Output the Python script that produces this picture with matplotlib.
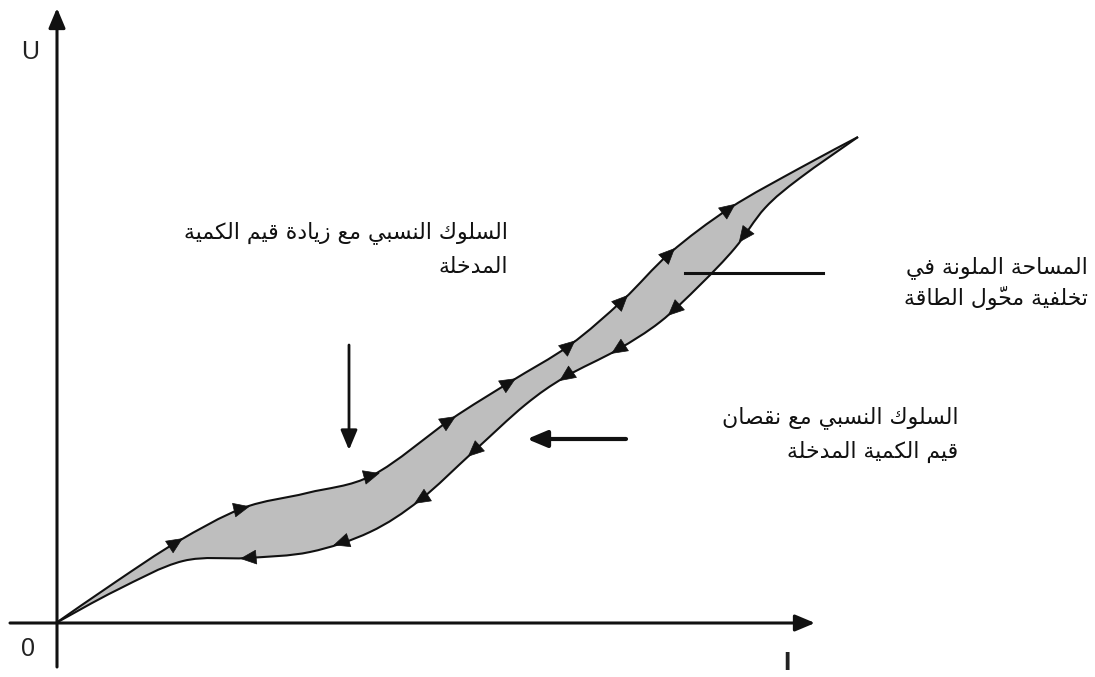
import matplotlib
matplotlib.use("Agg")
import matplotlib.pyplot as plt
from matplotlib.path import Path
from matplotlib.patches import PathPatch
import numpy as np

# Hysteresis loop of an energy converter (schematic) in pixel units
upper_x = [56, 117, 177, 243, 307, 373, 450, 510, 570, 623, 670, 730, 800, 858]
upper_y = [623, 581, 542, 508, 493, 475, 420, 382, 345, 300, 253, 208, 168, 137]
lower_x = [858, 800, 765, 735, 700, 660, 617, 565, 525, 473, 420, 370, 310, 247, 183, 117, 56]
lower_y = [137, 178, 208, 248, 285, 322, 350, 377, 405, 452, 500, 532, 552, 558, 561, 590, 623]

# where the small direction arrows sit
upper_arrow_x = [177, 243, 373, 450, 510, 570, 623, 670, 730]
upper_arrow_y = [542, 508, 475, 420, 382, 345, 300, 253, 208]
lower_arrow_x = [743, 673, 617, 565, 473, 420, 340, 247]
lower_arrow_y = [237, 311, 350, 377, 452, 500, 543, 558]

label_rising = ["السلوك النسبي مع زيادة قيم الكمية", "المدخلة"]
label_area = ["المساحة الملونة في", "تخلفية محوّل الطاقة"]
label_falling = ["السلوك النسبي مع نقصان", "قيم الكمية المدخلة"]

# --- minimal Arabic shaping (matplotlib does no shaping / bidi) ---
FORMS = {
    'ا': (0xFE8D, 0xFE8E, None, None),
    'ب': (0xFE8F, 0xFE90, 0xFE91, 0xFE92),
    'ة': (0xFE93, 0xFE94, None, None),
    'ت': (0xFE95, 0xFE96, 0xFE97, 0xFE98),
    'ح': (0xFEA1, 0xFEA2, 0xFEA3, 0xFEA4),
    'خ': (0xFEA5, 0xFEA6, 0xFEA7, 0xFEA8),
    'د': (0xFEA9, 0xFEAA, None, None),
    'ز': (0xFEAF, 0xFEB0, None, None),
    'س': (0xFEB1, 0xFEB2, 0xFEB3, 0xFEB4),
    'ص': (0xFEB9, 0xFEBA, 0xFEBB, 0xFEBC),
    'ط': (0xFEC1, 0xFEC2, 0xFEC3, 0xFEC4),
    'ع': (0xFEC9, 0xFECA, 0xFECB, 0xFECC),
    'ف': (0xFED1, 0xFED2, 0xFED3, 0xFED4),
    'ق': (0xFED5, 0xFED6, 0xFED7, 0xFED8),
    'ك': (0xFED9, 0xFEDA, 0xFEDB, 0xFEDC),
    'ل': (0xFEDD, 0xFEDE, 0xFEDF, 0xFEE0),
    'م': (0xFEE1, 0xFEE2, 0xFEE3, 0xFEE4),
    'ن': (0xFEE5, 0xFEE6, 0xFEE7, 0xFEE8),
    'و': (0xFEED, 0xFEEE, None, None),
    'ي': (0xFEF1, 0xFEF2, 0xFEF3, 0xFEF4),
}
MARKS = {'\u0651'}


def shape(text):
    chars = list(text)
    n = len(chars)
    clusters = []
    for i, c in enumerate(chars):
        if c in MARKS and clusters:
            clusters[-1] += c
            continue
        if c not in FORMS:
            clusters.append(c)
            continue
        j = i - 1
        while j >= 0 and chars[j] in MARKS:
            j -= 1
        k = i + 1
        while k < n and chars[k] in MARKS:
            k += 1
        prev_j = j >= 0 and chars[j] in FORMS and FORMS[chars[j]][2] is not None
        next_j = k < n and chars[k] in FORMS and FORMS[c][2] is not None
        iso, fin, ini, med = FORMS[c]
        if prev_j and next_j:
            g = med
        elif prev_j:
            g = fin
        elif next_j:
            g = ini
        else:
            g = iso
        clusters.append(chr(g))
    return "".join(clusters[::-1])


def smooth_path(xs, ys):
    # Catmull-Rom through the read points, as cubic Bezier segments
    p = np.column_stack([xs, ys]).astype(float)
    pad = np.vstack([p[0], p, p[-1]])
    verts = [p[0]]
    codes = [Path.MOVETO]
    for i in range(1, len(pad) - 2):
        c1 = pad[i] + (pad[i + 1] - pad[i - 1]) / 6
        c2 = pad[i + 1] - (pad[i + 2] - pad[i]) / 6
        verts += [c1, c2, pad[i + 1]]
        codes += [Path.CURVE4] * 3
    return verts, codes


fig = plt.figure(figsize=(10.95, 6.77), dpi=100)
ax = fig.add_axes([0, 0, 1, 1])
ax.set_xlim(0, 1095)
ax.set_ylim(677, 0)
ax.axis('off')

head = '-|>,head_length=1.0,head_width=0.42'
# axes with arrow heads
ax.annotate('', xy=(57, 8), xytext=(57, 667),
            arrowprops=dict(arrowstyle=head, lw=2.2, color='#111111',
                            shrinkA=0, shrinkB=0, mutation_scale=12))
ax.annotate('', xy=(815, 623), xytext=(10, 623),
            arrowprops=dict(arrowstyle=head, lw=2.2, color='#111111',
                            shrinkA=0, shrinkB=0, mutation_scale=12))

# loop
uv, uc = smooth_path(upper_x, upper_y)
lv, lc = smooth_path(lower_x, lower_y)
fill_verts = uv + lv[1:] + [uv[0]]
fill_codes = uc + lc[1:] + [Path.CLOSEPOLY]
ax.add_patch(PathPatch(Path(fill_verts, fill_codes), facecolor='#bebebe', edgecolor='none', zorder=2))
ax.add_patch(PathPatch(Path(uv, uc), facecolor='none', edgecolor='#111111', lw=1.5, zorder=3))
ax.add_patch(PathPatch(Path(lv, lc), facecolor='none', edgecolor='#111111', lw=1.5, zorder=3))


def direction_arrows(cx, cy, axs, ays):
    cx = np.asarray(cx, float)
    cy = np.asarray(cy, float)
    mx = (cx[1:] + cx[:-1]) / 2
    my = (cy[1:] + cy[:-1]) / 2
    for x, y in zip(axs, ays):
        i = np.argmin(np.hypot(mx - x, my - y))
        dx, dy = cx[i + 1] - cx[i], cy[i + 1] - cy[i]
        L = np.hypot(dx, dy)
        ux, uy = dx / L, dy / L
        ax.annotate('', xy=(x + 7 * ux, y + 7 * uy), xytext=(x - 2 * ux, y - 2 * uy),
                    arrowprops=dict(arrowstyle='-|>,head_length=1.0,head_width=0.45', lw=0.5,
                                    color='#111111', shrinkA=0, shrinkB=0, mutation_scale=11),
                    zorder=4)


direction_arrows(upper_x, upper_y, upper_arrow_x, upper_arrow_y)
direction_arrows(lower_x, lower_y, lower_arrow_x, lower_arrow_y)

# pointers
ax.annotate('', xy=(349, 450), xytext=(349, 345),
            arrowprops=dict(arrowstyle=head, lw=2.0, color='#111111',
                            shrinkA=0, shrinkB=0, mutation_scale=12))
ax.annotate('', xy=(527, 439), xytext=(626, 439),
            arrowprops=dict(arrowstyle=head, lw=3.0, color='#111111',
                            shrinkA=0, shrinkB=0, mutation_scale=12))
ax.plot([685, 823], [273, 273], color='#111111', lw=2.2)

# axis labels
ax.text(30, 52, "U", fontsize=18, family='Liberation Sans', ha='center', va='center', color='#222222')
ax.text(28, 649, "0", fontsize=18, family='Liberation Sans', ha='center', va='center', color='#222222')
ax.text(787, 663, "I", fontsize=19, family='Liberation Sans', ha='center', va='center',
        color='#222222', fontweight='bold')

afont = dict(fontsize=15.8, family='DejaVu Sans', ha='right', va='center', color='#111111')
for k, line in enumerate(label_rising):
    ax.text(508, 233 + 34 * k, shape(line), **afont)
for k, line in enumerate(label_area):
    ax.text(1088, 268 + 30 * k, shape(line), **afont)
for k, line in enumerate(label_falling):
    ax.text(958, 418 + 34 * k, shape(line), **afont)

fig.savefig("out.png", dpi=100)
